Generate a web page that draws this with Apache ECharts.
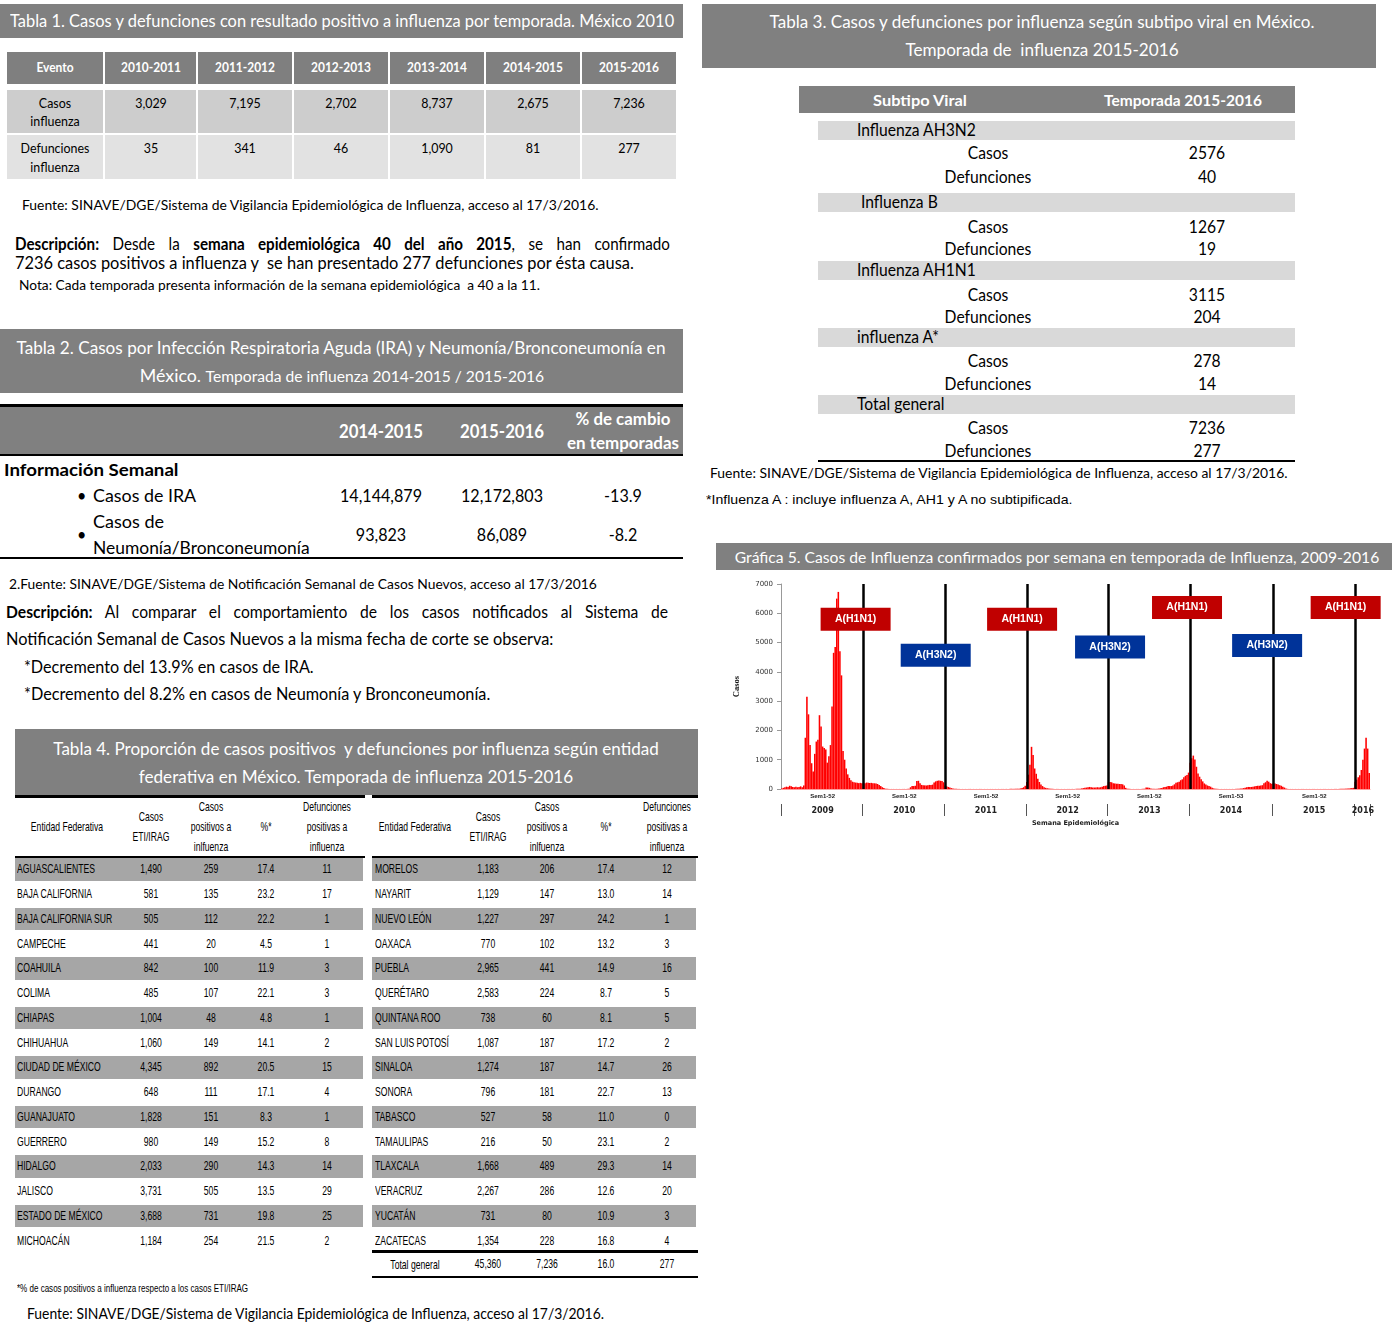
<!DOCTYPE html>
<html>
<head>
<meta charset="utf-8">
<title>Influenza México 2015-2016</title>
<script src="https://cdn.jsdelivr.net/npm/echarts@6.0.0/dist/echarts.min.js"></script>
<style>
	body {margin: 0; width: 1398px; height: 1327px; position: relative; overflow: hidden; background: #fff; color: #000; font-family: Lato, "Open Sans", sans-serif;}
	.box {position: absolute;}
	.t {position: absolute; white-space: nowrap;}
	#g5 {position: absolute; left: 716px; top: 570px; width: 676px; height: 262px;}
</style>
</head>
<body>
<div id="g5"></div>
<script>
/**
 * 数据
 */
// Tabla 1
var t1Head = ['Evento', '2010-2011', '2011-2012', '2012-2013', '2013-2014', '2014-2015', '2015-2016'];
var t1Casos = ['3,029', '7,195', '2,702', '8,737', '2,675', '7,236'];
var t1Def = ['35', '341', '46', '1,090', '81', '277'];
// Tabla 2
var t2Head = ['2014-2015', '2015-2016'];
var t2Ira = ['14,144,879', '12,172,803', '-13.9'];
var t2Neu = ['93,823', '86,089', '-8.2'];
// Tabla 3
var t3Subtipos = ['Influenza AH3N2', ' Influenza B', 'Influenza AH1N1', 'influenza A*', 'Total general'];
var t3Casos = ['2576', '1267', '3115', '278', '7236'];
var t3Def = ['40', '19', '204', '14', '277'];
// Tabla 4
var t4Left = [
	['AGUASCALIENTES', '1,490', '259', '17.4', '11'],
	['BAJA CALIFORNIA', '581', '135', '23.2', '17'],
	['BAJA CALIFORNIA SUR', '505', '112', '22.2', '1'],
	['CAMPECHE', '441', '20', '4.5', '1'],
	['COAHUILA', '842', '100', '11.9', '3'],
	['COLIMA', '485', '107', '22.1', '3'],
	['CHIAPAS', '1,004', '48', '4.8', '1'],
	['CHIHUAHUA', '1,060', '149', '14.1', '2'],
	['CIUDAD DE MÉXICO', '4,345', '892', '20.5', '15'],
	['DURANGO', '648', '111', '17.1', '4'],
	['GUANAJUATO', '1,828', '151', '8.3', '1'],
	['GUERRERO', '980', '149', '15.2', '8'],
	['HIDALGO', '2,033', '290', '14.3', '14'],
	['JALISCO', '3,731', '505', '13.5', '29'],
	['ESTADO DE MÉXICO', '3,688', '731', '19.8', '25'],
	['MICHOACÁN', '1,184', '254', '21.5', '2']
];
var t4Right = [
	['MORELOS', '1,183', '206', '17.4', '12'],
	['NAYARIT', '1,129', '147', '13.0', '14'],
	['NUEVO LEÓN', '1,227', '297', '24.2', '1'],
	['OAXACA', '770', '102', '13.2', '3'],
	['PUEBLA', '2,965', '441', '14.9', '16'],
	['QUERÉTARO', '2,583', '224', '8.7', '5'],
	['QUINTANA ROO', '738', '60', '8.1', '5'],
	['SAN LUIS POTOSÍ', '1,087', '187', '17.2', '2'],
	['SINALOA', '1,274', '187', '14.7', '26'],
	['SONORA', '796', '181', '22.7', '13'],
	['TABASCO', '527', '58', '11.0', '0'],
	['TAMAULIPAS', '216', '50', '23.1', '2'],
	['TLAXCALA', '1,668', '489', '29.3', '14'],
	['VERACRUZ', '2,267', '286', '12.6', '20'],
	['YUCATÁN', '731', '80', '10.9', '3'],
	['ZACATECAS', '1,354', '228', '16.8', '4']
];
var t4Total = ['Total general', '45,360', '7,236', '16.0', '277'];

// Gráfica 5: casos por semana
var years = ['2009', '2010', '2011', '2012', '2013', '2014', '2015', '2016'];
var semLabels = ['Sem1-52', 'Sem1-52', 'Sem1-52', 'Sem1-52', 'Sem1-52', 'Sem1-53', 'Sem1-52', ''];
var casos2009 = [20, 40, 60, 80, 70, 110, 90, 70, 60, 80, 60, 70, 90, 60, 120, 1750, 3150, 2550, 1500, 880, 600, 1200, 1620, 1680, 2520, 2130, 1450, 1400, 1350, 900, 1120, 1500, 2820, 4650, 4850, 6500, 6730, 4700, 3880, 1300, 1000, 700, 500, 380, 300, 250, 230, 220, 210, 200, 210, 200];
var casos2010 = [210, 200, 220, 215, 205, 210, 200, 195, 185, 170, 140, 100, 60, 30, 10, 5, 3, 2, 2, 2, 2, 2, 2, 2, 2, 2, 3, 3, 5, 10, 60, 100, 100, 110, 270, 280, 200, 140, 130, 125, 120, 130, 140, 135, 150, 220, 260, 280, 290, 280, 270, 230];
var casos2011 = [120, 90, 70, 50, 30, 15, 8, 5, 3, 3, 2, 2, 3, 2, 2, 2, 3, 2, 2, 2, 2, 2, 3, 2, 2, 2, 2, 2, 3, 2, 2, 2, 2, 2, 3, 2, 2, 2, 2, 3, 3, 4, 5, 5, 6, 8, 10, 12, 20, 35, 60, 110];
var casos2012 = [240, 490, 830, 1440, 1160, 700, 520, 350, 240, 150, 100, 60, 40, 25, 15, 10, 6, 4, 3, 3, 2, 2, 2, 2, 2, 2, 2, 2, 2, 3, 3, 4, 5, 8, 12, 20, 30, 40, 50, 60, 70, 60, 50, 50, 55, 60, 50, 60, 80, 100, 110, 120];
var casos2013 = [230, 240, 230, 200, 190, 180, 180, 170, 170, 160, 120, 40, 10, 5, 3, 3, 2, 2, 2, 2, 3, 3, 5, 10, 50, 50, 40, 20, 8, 5, 5, 8, 15, 25, 30, 60, 70, 80, 100, 100, 100, 120, 160, 210, 230, 250, 300, 330, 400, 450, 480, 560];
var casos2014 = [900, 1050, 1140, 1010, 760, 530, 420, 330, 260, 190, 150, 120, 100, 80, 40, 20, 10, 5, 3, 2, 2, 2, 2, 2, 2, 2, 2, 3, 3, 5, 8, 10, 15, 20, 30, 40, 60, 70, 70, 70, 80, 90, 100, 110, 110, 120, 130, 200, 230, 280, 250, 200, 180];
var casos2015 = [200, 190, 170, 150, 130, 110, 80, 50, 20, 5, 3, 2, 2, 2, 2, 2, 2, 2, 2, 2, 2, 2, 2, 2, 2, 2, 2, 2, 2, 2, 2, 2, 2, 2, 2, 2, 2, 2, 3, 3, 3, 4, 5, 6, 8, 10, 12, 15, 20, 25, 30, 40];
var casos2016 = [250, 320, 400, 470, 650, 1000, 1380, 1750, 1380, 550];
var casosPorAnio = [casos2009, casos2010, casos2011, casos2012, casos2013, casos2014, casos2015, casos2016];
// recuadros de subtipo dominante (semana, nivel en el eje de casos)
var subtipoNombres = ['A(H1N1)', 'A(H3N2)', 'A(H1N1)', 'A(H3N2)', 'A(H1N1)', 'A(H3N2)', 'A(H1N1)'];
var subtipoSemanas = ['2009-48', '2010-47', '2011-50', '2013-2', '2013-51', '2014-50', '2015-47'];
var subtipoNivel = [5800, 4570, 5800, 4850, 6200, 4900, 6200];

/**
 * 文字工具
 */
var LATO_SX = 0.92;
function box(x, y, w, h, color) {
	var d = document.createElement('div');
	d.className = 'box';
	d.style.cssText = 'left:' + x + 'px;top:' + y + 'px;width:' + w + 'px;height:' + h + 'px;background:' + color + ';';
	document.body.appendChild(d);
	return d;
}
// o: x, y(centro vertical), size, c(centrado), w(ancho deseado), bold, color, font, just(justificar)
function put(html, o) {
	var d = document.createElement('div');
	d.className = 't';
	d.innerHTML = html;
	var lh = Math.round(o.size * 1.3);
	d.style.cssText = 'left:' + o.x + 'px;top:' + (o.y - lh / 2) + 'px;line-height:' + lh + 'px;font-size:' + o.size + 'px;';
	if (o.font) d.style.fontFamily = o.font;
	if (o.bold) d.style.fontWeight = 'bold';
	if (o.color) d.style.color = o.color;
	if (o.ls) d.style.letterSpacing = o.ls + 'px';
	document.body.appendChild(d);
	var w = d.offsetWidth;
	var s = o.sx || (o.font ? 1 : LATO_SX);
	if (o.w && o.just) {
		var gaps = (d.textContent.match(/ /g) || []).length;
		var extra = (o.w - w * s) / gaps / s;
		d.style.wordSpacing = extra + 'px';
	} else if (o.w) {
		s = o.w / w;
	}
	d.style.transformOrigin = o.c ? 'center' : 'left';
	d.style.transform = (o.c ? 'translateX(-50%) ' : '') + 'scaleX(' + s + ')';
	return d;
}

/**
 * Tabla 1
 */
box(0, 4, 683, 34, '#808080');
put('Tabla 1. Casos y defunciones con resultado positivo a influenza por temporada. México 2010', {x: 10, y: 21, size: 16.5, color: '#fff', w: 664});
var t1Cols = [[7, 103], [105, 196], [198, 292], [294, 388], [390, 484], [486, 580], [582, 676]];
for (var i = 0; i < t1Cols.length; i++) {
	var cx = (t1Cols[i][0] + t1Cols[i][1]) / 2, cw = t1Cols[i][1] - t1Cols[i][0];
	box(t1Cols[i][0], 52, cw, 32, '#7f7f7f');
	box(t1Cols[i][0], 90, cw, 43, '#cdcdcd');
	box(t1Cols[i][0], 135, cw, 44, '#e2e2e2');
	put(t1Head[i], {x: cx, y: 67, size: 13, bold: true, color: '#fff', c: true});
	if (i === 0) {
		put('Casos', {x: cx, y: 103, size: 13.5, c: true});
		put('influenza', {x: cx, y: 121, size: 13.5, c: true});
		put('Defunciones', {x: cx, y: 148, size: 13.5, c: true});
		put('influenza', {x: cx, y: 167, size: 13.5, c: true});
	} else {
		put(t1Casos[i - 1], {x: cx, y: 103, size: 13.5, c: true});
		put(t1Def[i - 1], {x: cx, y: 148, size: 13.5, c: true});
	}
}
put('Fuente: SINAVE/DGE/Sistema de Vigilancia Epidemiológica de Influenza, acceso al 17/3/2016.', {x: 22, y: 205, size: 13.5, w: 577});
put('<b>Descripción:</b> Desde la <b>semana epidemiológica 40 del año 2015</b>, se han confirmado', {x: 15, y: 244, size: 16.5, w: 655, just: true});
put('7236 casos positivos a influenza y &nbsp;se han presentado 277 defunciones por ésta causa.', {x: 15, y: 263, size: 16.5, w: 619});
put('Nota: Cada temporada presenta información de la semana epidemiológica &nbsp;a 40 a la 11.', {x: 19, y: 286, size: 12.5, w: 521});

/**
 * Tabla 2
 */
box(0, 329, 683, 64, '#808080');
put('Tabla 2. Casos por Infección Respiratoria Aguda (IRA) y Neumonía/Bronconeumonía en', {x: 341, y: 348, size: 16.5, color: '#fff', c: true, w: 649});
put('México. <span style="font-size:14.5px">Temporada de influenza 2014-2015 / 2015-2016</span>', {x: 342, y: 376, size: 16.5, color: '#fff', c: true, w: 404});
box(0, 404, 683, 3, '#000');
box(0, 407, 683, 47, '#808080');
box(0, 454, 683, 2, '#000');
box(0, 557, 683, 2, '#000');
var t2Cx = [381, 502, 623];
put(t2Head[0], {x: t2Cx[0], y: 431, size: 18, bold: true, color: '#fff', c: true, w: 84});
put(t2Head[1], {x: t2Cx[1], y: 431, size: 18, bold: true, color: '#fff', c: true, w: 84});
put('% de cambio', {x: t2Cx[2], y: 419, size: 16.5, bold: true, color: '#fff', c: true, w: 95});
put('en temporadas', {x: t2Cx[2], y: 443, size: 16.5, bold: true, color: '#fff', c: true, w: 112});
put('Información Semanal', {x: 4, y: 469, size: 17.5, bold: true, w: 175});
put('•', {x: 77, y: 495, size: 17.5});
put('Casos de IRA', {x: 93, y: 495, size: 17.5, w: 103});
put('•', {x: 77, y: 534, size: 17.5});
put('Casos de', {x: 93, y: 521, size: 17.5, w: 71});
put('Neumonía/Bronconeumonía', {x: 93, y: 547, size: 17.5, w: 217});
for (var i = 0; i < 3; i++) {
	put(t2Ira[i], {x: t2Cx[i], y: 495, size: 17.5, c: true});
	put(t2Neu[i], {x: t2Cx[i], y: 534, size: 17.5, c: true});
}
put('2.Fuente: SINAVE/DGE/Sistema de Notificación Semanal de Casos Nuevos, acceso al 17/3/2016', {x: 9, y: 584, size: 13.5, w: 588});
put('<b>Descripción:</b> Al comparar el comportamiento de los casos notificados al Sistema de', {x: 6, y: 612, size: 17, w: 662, just: true});
put('Notificación Semanal de Casos Nuevos a la misma fecha de corte se observa:', {x: 6, y: 639, size: 17, w: 547});
put('*Decremento del 13.9% en casos de IRA.', {x: 24, y: 667, size: 17, w: 290});
put('*Decremento del 8.2% en casos de Neumonía y Bronconeumonía.', {x: 24, y: 694, size: 17, w: 466});

/**
 * Tabla 4
 */
box(15, 729, 683, 66, '#808080');
put('Tabla 4. Proporción de casos positivos &nbsp;y defunciones por influenza según entidad', {x: 356, y: 749, size: 17, color: '#fff', c: true, w: 605});
put('federativa en México. Temporada de influenza 2015-2016', {x: 356, y: 777, size: 17, color: '#fff', c: true, w: 434});

var NARROW = '"Liberation Sans Narrow", "Liberation Sans", Arial, sans-serif';
var T4_SIZE = 13.5;
// factor de condensado calibrado con una etiqueta de referencia
var probe = put('BAJA CALIFORNIA SUR', {x: -500, y: -100, size: T4_SIZE, font: NARROW, w: 95});
var NSX = parseFloat(probe.style.transform.match(/scaleX\(([\d.]+)\)/)[1]);
probe.parentNode.removeChild(probe);

function t4Block(rows, x0, x1, nameX, headX, cols, total) {
	box(x0, 795, x1 - x0, 3, '#000');
	box(x0, 856, x1 - x0, 2, '#000');
	put('Entidad Federativa', {x: headX, y: 827, size: T4_SIZE, font: NARROW, sx: NSX, c: true});
	put('Casos', {x: cols[0], y: 817, size: T4_SIZE, font: NARROW, sx: NSX, c: true});
	put('ETI/IRAG', {x: cols[0], y: 837, size: T4_SIZE, font: NARROW, sx: NSX, c: true});
	put('Casos', {x: cols[1], y: 807, size: T4_SIZE, font: NARROW, sx: NSX, c: true});
	put('positivos a', {x: cols[1], y: 827, size: T4_SIZE, font: NARROW, sx: NSX, c: true});
	put('inlfuenza', {x: cols[1], y: 847, size: T4_SIZE, font: NARROW, sx: NSX, c: true});
	put('%*', {x: cols[2], y: 827, size: T4_SIZE, font: NARROW, sx: NSX, c: true});
	put('Defunciones', {x: cols[3], y: 807, size: T4_SIZE, font: NARROW, sx: NSX, c: true});
	put('positivas a', {x: cols[3], y: 827, size: T4_SIZE, font: NARROW, sx: NSX, c: true});
	put('influenza', {x: cols[3], y: 847, size: T4_SIZE, font: NARROW, sx: NSX, c: true});
	var rh = 24.75;
	for (var r = 0; r < rows.length; r++) {
		var top = 858 + r * rh;
		if (r % 2 === 0) box(x0, top, x1 - x0 - 2, rh - 2, '#a6a6a6');
		var cy = top + rh / 2 - 1;
		put(rows[r][0], {x: nameX, y: cy, size: T4_SIZE, font: NARROW, sx: NSX});
		for (var k = 1; k < 5; k++) {
			put(rows[r][k], {x: cols[k - 1], y: cy, size: T4_SIZE, font: NARROW, sx: NSX, c: true});
		}
	}
	if (total) {
		box(x0, 1250, x1 - x0, 3, '#000');
		box(x0, 1276, x1 - x0, 2, '#000');
		put(total[0], {x: headX, y: 1265, size: T4_SIZE, font: NARROW, sx: NSX, c: true});
		for (var k = 1; k < 5; k++) {
			put(total[k], {x: cols[k - 1], y: 1264, size: T4_SIZE, font: NARROW, sx: NSX, c: true});
		}
	}
}
t4Block(t4Left, 15, 365, 17, 67, [151, 211, 266, 327], null);
t4Block(t4Right, 372, 698, 375, 415, [488, 547, 606, 667], t4Total);
put('*% de casos positivos a influenza respecto a los casos ETI/IRAG', {x: 17, y: 1288, size: 11.5, font: NARROW, w: 231});
put('Fuente: SINAVE/DGE/Sistema de Vigilancia Epidemiológica de Influenza, acceso al 17/3/2016.', {x: 27, y: 1313, size: 14.5, w: 577});

/**
 * Tabla 3
 */
box(702, 4, 674, 64, '#808080');
put('Tabla 3. Casos y defunciones por influenza según subtipo viral en México.', {x: 1042, y: 22, size: 17, color: '#fff', c: true, w: 545});
put('Temporada de &nbsp;influenza 2015-2016', {x: 1042, y: 50, size: 17, color: '#fff', c: true, w: 273});
box(799, 86, 496, 27, '#808080');
put('Subtipo Viral', {x: 920, y: 100, size: 15, bold: true, color: '#fff', c: true, w: 94});
put('Temporada 2015-2016', {x: 1183, y: 100, size: 15, bold: true, color: '#fff', c: true, w: 158});
var t3BandTop = [121, 193, 261, 328, 395];
var t3CasosY = [153, 227, 295, 361, 428];
var t3DefY = [177, 249, 317, 384, 451];
for (var i = 0; i < t3Subtipos.length; i++) {
	box(818, t3BandTop[i], 477, 19, '#d9d9d9');
	put(t3Subtipos[i].replace(/^ /, '&nbsp;'), {x: 857, y: t3BandTop[i] + 9, size: 17});
	put('Casos', {x: 988, y: t3CasosY[i], size: 17, c: true});
	put(t3Casos[i], {x: 1207, y: t3CasosY[i], size: 17, c: true});
	put('Defunciones', {x: 988, y: t3DefY[i], size: 17, c: true});
	put(t3Def[i], {x: 1207, y: t3DefY[i], size: 17, c: true});
}
box(818, 460, 477, 2, '#000');
put('Fuente: SINAVE/DGE/Sistema de Vigilancia Epidemiológica de Influenza, acceso al 17/3/2016.', {x: 710, y: 473, size: 13.5, w: 578});
put('*Influenza A : incluye influenza A, AH1 y A no subtipificada.', {x: 706, y: 499, size: 13, font: '"Liberation Sans", Arial, sans-serif', w: 367});

/**
 * Gráfica 5
 */
box(716, 543, 676, 27, '#808080');
put('Gráfica 5. Casos de Influenza confirmados por semana en temporada de Influenza, 2009-2016', {x: 1057, y: 557, size: 15.5, color: '#fff', c: true, w: 644});

var semanas = [];
var casos = [];
var inicioAnio = [];// índice de la primera semana de cada año
var centroAnio = [];
for (var a = 0; a < years.length; a++) {
	inicioAnio.push(semanas.length);
	for (var s = 0; s < casosPorAnio[a].length; s++) {
		semanas.push(years[a] + '-' + (s + 1));
		casos.push(casosPorAnio[a][s]);
	}
	centroAnio.push(inicioAnio[a] + Math.floor(casosPorAnio[a].length / 2));
}

var lineasAnio = [];
for (var a = 1; a < years.length; a++) {
	lineasAnio.push({xAxis: semanas[inicioAnio[a]]});
}
var recuadros = [];
for (var i = 0; i < subtipoNombres.length; i++) {
	recuadros.push({
		name: subtipoNombres[i],
		coord: [subtipoSemanas[i], subtipoNivel[i]],
		itemStyle: {color: subtipoNombres[i] === 'A(H1N1)' ? '#c00000' : '#003399'}
	});
}

var lineChart = echarts.init(document.getElementById('g5'));
var lineOption = {
	animation: false,
	grid: {left: 65, right: 22, top: 14, bottom: 43},
	xAxis: [
		{// Sem1-52
			type: 'category',
			data: semanas,
			axisLine: {lineStyle: {color: '#ff9d9d', width: 1}},
			axisTick: {show: false},
			axisLabel: {
				interval: function (idx) { return centroAnio.indexOf(idx) >= 0; },
				formatter: function (v, idx) { return semLabels[centroAnio.indexOf(idx)]; },
				fontSize: 6,
				fontWeight: 'bold',
				fontFamily: 'Liberation Sans',
				color: '#222',
				margin: 4
			}
		},
		{// años
			type: 'category',
			data: semanas,
			position: 'bottom',
			offset: 15,
			axisLine: {show: false},
			axisTick: {
				show: true,
				interval: function (idx) { return inicioAnio.indexOf(idx) >= 0; },
				length: 12,
				lineStyle: {color: '#555'}
			},
			axisLabel: {
				interval: function (idx) { return centroAnio.indexOf(idx) >= 0; },
				formatter: function (v, idx) { return years[centroAnio.indexOf(idx)]; },
				fontSize: 8,
				fontWeight: 'bold',
				fontFamily: 'DejaVu Sans',
				color: '#222',
				margin: 3
			},
			name: 'Semana Epidemiológica',
			nameLocation: 'middle',
			nameGap: 15,
			nameTextStyle: {fontSize: 6.5, fontWeight: 'bold', fontFamily: 'DejaVu Sans', color: '#222'}
		}
	],
	yAxis: [{
		type: 'value',
		min: 0,
		max: 7000,
		interval: 1000,
		axisLine: {show: true, lineStyle: {color: '#999'}},
		axisTick: {show: true, length: 4, lineStyle: {color: '#999'}},
		splitLine: {show: false},
		axisLabel: {
			formatter: function (v) { return String(v); },
			fontSize: 7,
			fontFamily: 'DejaVu Sans',
			color: '#333',
			margin: 8
		},
		name: 'Casos',
		nameLocation: 'middle',
		nameGap: 40,
		nameRotate: 90,
		nameTextStyle: {fontSize: 8.5, fontWeight: 'bold', fontFamily: 'Liberation Sans Narrow', color: '#111'}
	}],
	series: [{
		name: 'Casos',
		type: 'bar',
		xAxisIndex: 0,
		yAxisIndex: 0,
		data: casos,
		barCategoryGap: '0%',
		itemStyle: {color: '#ff0000'},
		markLine: {
			silent: true,
			symbol: ['none', 'none'],
			label: {show: false},
			lineStyle: {color: '#000', width: 2.5, type: 'solid'},
			z: 3,
			data: lineasAnio
		},
		markPoint: {
			silent: true,
			symbol: 'rect',
			symbolSize: [70, 23],
			z: 4,
			label: {show: true, formatter: '{b}', color: '#fff', fontWeight: 'bold', fontSize: 10.5, fontFamily: 'Liberation Sans'},
			data: recuadros
		}
	}]
};
lineChart.setOption(lineOption);
</script>
</body>
</html>
